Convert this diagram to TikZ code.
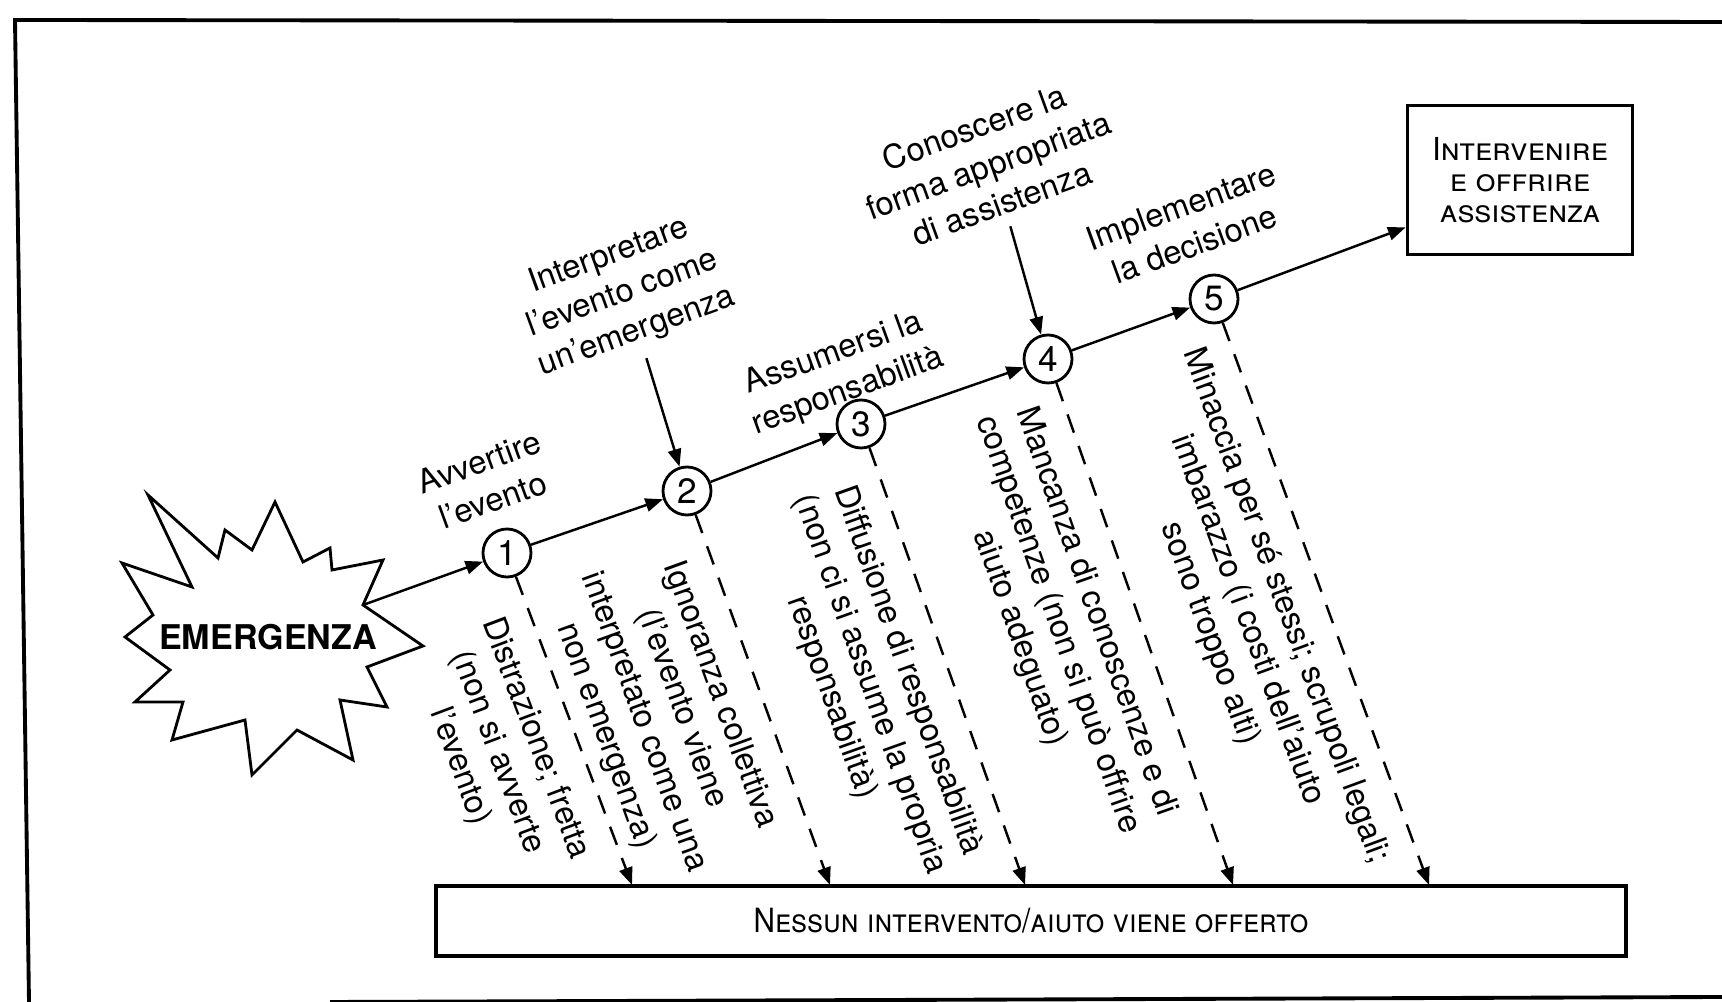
\documentclass[tikz,border=0pt]{standalone}
\usepackage{fontspec}
\setmainfont{TeX Gyre Heros}
\usetikzlibrary{arrows.meta}

\tikzset{
  stadio/.style={circle, draw, line width=0.8pt, minimum size=4.8mm, inner sep=0pt, font=\fontsize{10}{10}\selectfont},
  freccia/.style={line width=0.7pt, -{Triangle[length=5pt,width=3.8pt]}},
  tratto/.style={freccia, dash pattern=on 5.5pt off 4pt},
  etic/.style={align=center, rotate=20, font=\fontsize{9.3}{11.5}\selectfont},
  causa/.style={align=center, sloped, below=3pt, font=\fontsize{9.3}{11.5}\selectfont},
  riquadro/.style={draw, line width=1.1pt, align=center, font=\fontsize{9}{8.8}\selectfont\scshape}
}

\begin{document}
\begin{tikzpicture}[x=0.1mm, y=-0.1mm]
  \useasboundingbox (0,0) rectangle (1722,1002);
  % cornice
  \draw[line width=1.1pt] (29,1002) -- (15,20) -- (1722,22);
  \draw[line width=1.1pt] (330,1002) -- (1722,997);

  % emergenza
  \draw[line width=0.8pt, fill=white] (148,495) -- (218,558) -- (225,530) -- (252,550) -- (275,502)
    -- (303,562) -- (330,548) -- (332,570) -- (383,560) -- (363,605) -- (423,646) -- (367,667)
    -- (387,707) -- (340,700) -- (353,760) -- (297,730) -- (252,775) -- (245,720) -- (172,740)
    -- (183,702) -- (135,702) -- (170,670) -- (125,637) -- (153,615) -- (122,563) -- (192,587) -- cycle;
  \node[font=\fontsize{9.7}{9.7}\selectfont\bfseries] (emerg) at (268,637) {EMERGENZA};
  \coordinate (punta) at (363,605);

  % fasi
  \foreach \n/\x/\y in {1/507/553, 2/687/491, 3/861/424, 4/1048/359, 5/1214/299}
    \node[stadio] (c\n) at (\x,\y) {\n};

  \node[etic] (avv) at (486,481) {Avvertire\\l’evento};
  \node[etic] (interp) at (623,294) {Interpretare\\l’evento come\\un’emergenza};
  \node[etic] (assum) at (841,373) {Assumersi la\\responsabilità};
  \node[etic] (conosc) at (988,165) {Conoscere la\\forma appropriata\\di assistenza};
  \node[etic] (impl) at (1188,225) {Implementare\\la decisione};

  \node[riquadro, minimum width=22.5mm, minimum height=14.9mm] (meta) at (1520,180)
    {Intervenire\\e offrire\\assistenza};
  \node[riquadro, minimum width=119mm, minimum height=7mm,
    font=\fontsize{9.5}{9.5}\selectfont\scshape\addfontfeature{FakeStretch=0.89}] (nessuno) at (1031,921)
    {Nessun intervento/aiuto viene offerto};

  % percorso principale
  \draw[freccia] (punta) -- (c1);
  \foreach \a/\b in {1/2, 2/3, 3/4, 4/5}
    \draw[freccia] (c\a) -- (c\b);
  \draw[freccia] (c5) -- ([yshift=-13.5pt]meta.west);
  \draw[freccia] (interp.south) -- (c2);
  \draw[freccia] (conosc.south) -- (c4);

  % uscite verso il non intervento
  \foreach \n/\x in {1/632, 2/830, 3/1025, 4/1233, 5/1429}
    \coordinate (t\n) at (\x,885);
  \draw[tratto] (c1) -- (t1) node[causa, pos=0.48] {Distrazione; fretta\\(non si avverte\\l’evento)};
  \draw[tratto] (c2) -- (t2) node[causa, pos=0.45] {Ignoranza collettiva\\(l’evento viene\\interpretato come una\\non emergenza)};
  \draw[tratto] (c3) -- (t3) node[causa, pos=0.48] {Diffusione di responsabilità\\(non ci si assume la propria\\responsabilità)};
  \draw[tratto] (c4) -- (t4) node[causa, pos=0.43] {Mancanza di conoscenze e di\\competenze (non si può offrire\\aiuto adeguato)};
  \draw[tratto] (c5) -- (t5) node[causa, pos=0.48] {Minaccia per sé stessi; scrupoli legali;\\imbarazzo (i costi dell’aiuto\\sono troppo alti)};
\end{tikzpicture}
\end{document}
